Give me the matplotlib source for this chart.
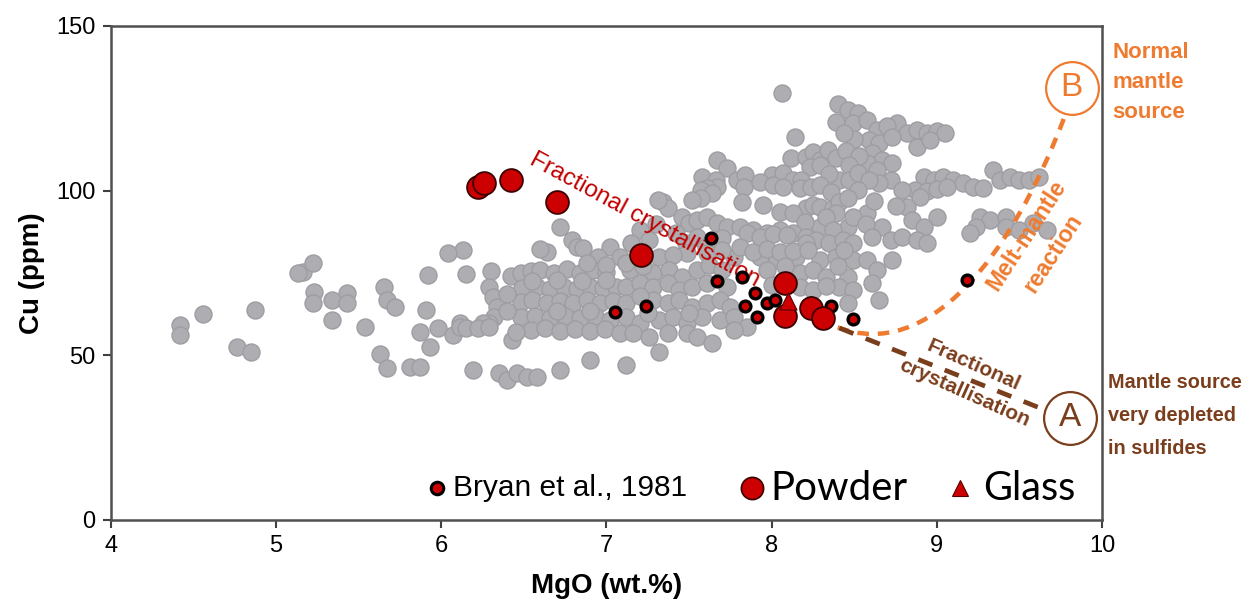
import matplotlib
matplotlib.use('Agg')
import matplotlib.pyplot as plt
from matplotlib import font_manager
from matplotlib.path import Path
from matplotlib.patches import PathPatch

def pick(*names):
    avail = {f.name for f in font_manager.fontManager.ttflist}
    for n in names:
        if n in avail:
            return n
    return 'DejaVu Sans'

NARROW = pick('Liberation Sans Narrow', 'Liberation Sans')
ARIAL = pick('Liberation Sans', 'DejaVu Sans')
CALI = pick('Lato', 'Open Sans', 'Liberation Sans')

# ---------------- data ----------------
gray_points = [
    (8.06,129.7),
    (8.40,126.3),(8.46,124.4),(8.52,123.5),
    (8.39,120.9),(8.49,120.5),(8.58,121.4),(8.76,120.6),(8.64,118.4),(8.70,119.5),
    (8.14,116.3),(8.82,117.5),(8.88,118.4),(8.94,117.4),(9.00,118.2),(9.05,117.6),(8.59,115.4),(8.65,114.5),
    (8.73,116.3),(8.50,115.6),(8.44,117.5),
    (8.88,113.3),(8.96,115.3),(8.61,111.4),(8.67,109.3),(8.73,108.4),(8.58,108.4),(8.12,110.0),(8.21,110.2),
    (8.25,111.7),(8.29,109.3),(8.34,112.4),(8.39,110.0),(7.67,109.3),(8.45,112.0),(8.53,110.5),
    (7.73,106.9),(7.58,104.2),(7.66,103.3),(7.79,103.3),(7.84,104.8),(8.00,104.8),(8.07,105.4),(8.13,103.3),
    (8.23,107.2),(8.29,107.8),(8.47,107.8),(8.18,103.3),(8.41,103.3),(8.47,103.3),(8.52,105.4),(8.64,106.3),
    (8.72,103.3),(8.65,102.3),(8.59,103.3),(8.92,104.2),(8.98,103.3),(9.04,104.2),(9.10,103.3),(9.16,102.3),
    (9.34,106.3),(9.38,103.3),(9.44,104.2),(9.50,103.3),(9.56,103.3),(9.62,104.2),(8.35,105.0),(7.93,102.5),
    (7.67,101.1),(7.61,100.8),(7.83,101.1),(8.01,101.7),(8.07,101.1),(8.17,100.8),(8.24,101.1),(8.29,101.7),
    (7.57,100.2),(7.64,99.3),(7.57,97.8),(7.82,96.6),(9.22,101.1),(9.28,100.9),(8.87,100.2),(8.94,100.0),
    (9.00,100.4),(9.06,101.1),(8.79,100.2),(8.90,98.1),(8.36,99.5),(8.52,100.3),
    (7.34,96.6),(7.37,94.7),(7.31,97.2),(7.52,97.2),(8.21,94.7),(8.25,95.7),(8.29,95.0),(8.37,94.7),(8.41,96.6),
    (8.46,97.8),(8.82,95.0),(8.75,95.2),(8.05,93.5),(8.13,93.2),(8.58,93.2),(8.39,93.2),(7.95,95.5),(8.62,97.0),
    (7.46,92.0),(7.50,90.2),(7.55,91.1),(7.61,92.0),(7.67,90.2),(7.73,89.0),(7.81,89.0),(7.89,88.0),(8.05,88.0),
    (8.29,89.0),(8.46,89.0),(8.49,92.0),(8.33,92.0),(9.26,92.0),(9.32,91.1),(9.24,89.0),(9.42,92.0),(9.42,89.0),
    (9.58,90.2),(9.00,92.0),(8.85,91.1),(8.92,89.0),(8.67,89.0),(6.72,89.0),(7.30,90.0),(7.20,88.0),(8.20,90.5),
    (8.57,90.0),
    (7.97,87.2),(8.13,87.2),(8.21,86.0),(8.37,88.0),(8.27,85.0),(8.35,84.1),(8.43,85.0),(8.49,84.1),(8.21,84.1),
    (9.50,88.0),(9.67,88.0),(9.20,87.2),(8.61,86.0),(8.72,85.0),(8.79,86.0),(8.88,85.0),(8.94,84.1),(6.79,85.0),
    (6.82,83.0),(6.86,82.6),(7.85,87.0),(7.93,85.8),(8.01,86.8),(8.09,86.5),(7.26,85.0),(7.42,87.0),(7.48,84.0),
    (7.55,86.0),(7.60,83.0),(7.15,84.0),(7.02,83.0),(7.70,85.5),
    (6.64,81.4),(6.60,82.2),(6.13,82.0),(6.04,81.0),(7.32,80.0),(7.49,81.0),(7.61,81.0),(7.77,80.0),(7.93,80.0),
    (8.03,79.0),(8.15,80.0),(8.29,79.0),(8.39,80.0),(8.49,79.0),(8.58,79.0),(8.73,79.0),(7.81,83.0),(7.89,81.5),
    (7.97,82.3),(8.05,81.3),(8.13,81.8),(7.40,80.5),(7.08,80.0),(6.95,80.0),(7.70,82.0),(8.22,82.0),(8.44,82.0),
    (5.16,75.3),(5.22,78.0),(5.13,75.0),(5.92,74.4),(6.15,74.7),(6.42,74.1),(6.48,75.0),(6.54,75.5),(6.60,76.0),
    (6.68,75.0),(6.76,76.3),(6.84,75.0),(6.92,76.0),(7.00,75.2),(7.14,76.0),(7.28,75.0),(7.38,76.0),(7.46,73.8),
    (7.55,76.0),(7.97,76.0),(8.17,75.0),(8.25,76.0),(8.33,73.8),(8.46,73.8),(8.64,75.9),(6.88,78.0),(7.00,77.5),
    (7.12,78.0),(7.22,77.0),(7.62,77.5),(7.70,76.0),(8.08,77.0),(8.40,77.0),(6.30,75.5),
    (5.23,69.2),(5.43,68.9),(5.65,70.8),(6.29,70.8),(6.49,70.4),(6.58,70.9),(6.66,70.2),(6.74,70.6),(6.82,70.0),
    (6.90,70.8),(6.98,70.3),(7.06,70.6),(7.12,70.8),(7.20,72.0),(7.28,70.8),(7.37,72.0),(7.44,69.8),(7.52,70.8),
    (7.61,72.0),(7.73,70.8),(8.17,70.8),(8.25,69.8),(8.41,70.8),(8.49,69.8),(8.61,72.0),(6.55,72.5),(6.70,73.0),
    (6.85,72.5),(7.00,73.0),(8.00,71.5),(8.33,71.0),
    (5.22,65.9),(5.34,66.8),(5.43,65.9),(5.67,66.8),(5.72,64.7),(5.91,63.8),(6.31,67.7),(6.34,64.7),(6.48,66.2),
    (6.55,66.8),(6.64,65.8),(6.72,66.5),(6.80,66.0),(6.88,66.7),(6.96,65.9),(7.04,66.5),(7.12,65.9),(7.28,66.8),
    (7.37,65.9),(7.44,66.8),(7.52,64.7),(7.61,65.9),(7.69,66.8),(7.75,64.7),(8.46,65.9),(8.65,66.8),(4.87,63.8),
    (4.56,62.6),(7.20,68.0),(6.40,68.5),
    (6.32,61.6),(6.29,59.8),(5.34,60.7),(6.48,61.6),(6.57,62.0),(6.66,61.4),(6.75,62.0),(6.84,61.3),(6.93,61.8),
    (7.02,60.7),(7.12,61.6),(7.20,59.8),(7.32,60.7),(7.40,61.6),(7.49,59.8),(7.58,61.6),(7.69,60.7),(7.77,61.6),
    (4.42,59.2),(6.11,59.8),(6.25,59.8),(6.40,63.5),(6.70,63.5),(6.90,63.5),(7.25,63.0),(7.50,63.0),
    (4.42,56.2),(5.54,58.6),(5.87,57.1),(5.98,58.3),(6.07,56.2),(6.11,58.6),(6.15,58.3),(6.22,58.3),(6.29,58.6),
    (6.54,57.7),(6.63,58.2),(6.72,57.5),(6.81,58.0),(6.90,57.4),(6.99,57.9),(7.08,56.8),(7.16,56.8),(7.26,55.6),
    (7.37,56.8),(7.49,56.8),(7.55,55.6),(7.85,58.6),(7.77,57.7),(6.43,54.7),(7.64,53.8),(6.45,57.0),
    (4.76,52.5),(4.85,51.0),(5.63,50.4),(5.93,52.5),(7.32,51.0),(6.90,48.6),
    (5.67,46.2),(5.81,46.5),(5.87,46.5),(6.19,45.5),(6.35,44.6),(6.40,42.5),(6.46,44.6),(6.52,43.4),(6.58,43.4),
    (6.72,45.5),(7.12,47.0),
]
gray_mgo = [p[0] for p in gray_points]
gray_cu = [p[1] for p in gray_points]

bryan_mgo = [7.05, 7.24, 7.63, 7.67, 7.82, 7.90, 7.84, 7.91, 7.97, 8.02, 8.24, 8.36, 8.49, 9.18]
bryan_cu = [63.2, 65.0, 85.6, 72.6, 73.8, 68.9, 65.0, 61.6, 65.9, 66.8, 65.9, 65.0, 61.0, 72.9]

powder_mgo = [6.22, 6.26, 6.42, 6.70, 7.21, 8.08, 8.08, 8.24, 8.31]
powder_cu = [101.1, 102.4, 103.2, 96.6, 80.5, 72.0, 61.8, 64.3, 61.2]

glass_mgo = [8.10]
glass_cu = [66.4]

# annotation geometry (data units)
melt_curve_x = [8.40, 8.95, 9.45, 9.77]
melt_curve_y = [58.5, 48.0, 80.0, 122.0]
fc_line_x = [8.41, 9.64]
fc_line_y = [58.3, 33.7]
circle_B = (9.817, 131.2)
circle_A = (9.805, 31.0)

x_ticks = [4, 5, 6, 7, 8, 9, 10]
y_ticks = [0, 50, 100, 150]

RED = '#C00000'
ORANGE = '#EE7B30'
BROWN = '#7A3E1C'

# ---------------- figure ----------------
fig = plt.figure(figsize=(12.55, 6.06), dpi=100)
ax = fig.add_axes([111/1255, 86/606, 991/1255, 494/606])
ax.set_xlim(4, 10)
ax.set_ylim(0, 150)
ax.set_xticks(x_ticks)
ax.set_yticks(y_ticks)
ax.set_xticklabels([str(t) for t in x_ticks], fontfamily=ARIAL, fontsize=17)
ax.set_yticklabels([str(t) for t in y_ticks], fontfamily=ARIAL, fontsize=17)
ax.tick_params(direction='out', length=6, width=1.5, color='#404040', pad=5)
for s in ax.spines.values():
    s.set_color('#505050')
    s.set_linewidth(1.8)

ax.set_xlabel('MgO (wt.%)', fontfamily=NARROW, fontweight='bold', fontsize=20, labelpad=11)
ax.set_ylabel('Cu (ppm)', fontfamily=NARROW, fontweight='bold', fontsize=20, labelpad=8)

ax.scatter(gray_mgo, gray_cu, s=150, c='#AEAEB2', edgecolors='#9E9EA2', linewidths=1.0, zorder=2)

# annotation lines
verts = list(zip(melt_curve_x, melt_curve_y))
path = Path(verts, [Path.MOVETO, Path.CURVE4, Path.CURVE4, Path.CURVE4])
ax.add_patch(PathPatch(path, fill=False, edgecolor=ORANGE, lw=3.2, linestyle=(0, (2.6, 2.0)), zorder=3))
ax.plot(fc_line_x, fc_line_y, color=BROWN, lw=3.4, linestyle=(0, (3.2, 2.8)), zorder=3)

ax.plot([circle_B[0]], [circle_B[1]], marker='o', ms=38, mfc='white', mec=ORANGE, mew=1.6, zorder=4, clip_on=False)
ax.text(circle_B[0], circle_B[1], 'B', color=ORANGE, fontsize=24, fontfamily=ARIAL, ha='center', va='center', zorder=5)
ax.plot([circle_A[0]], [circle_A[1]], marker='o', ms=38, mfc='white', mec=BROWN, mew=1.6, zorder=4, clip_on=False)
ax.text(circle_A[0], circle_A[1], 'A', color=BROWN, fontsize=24, fontfamily=ARIAL, ha='center', va='center', zorder=5)

ax.text(7.232, 91.1, 'Fractional crystallisation', color=RED, fontsize=17.5, fontfamily=ARIAL,
        rotation=-28.5, ha='center', va='center', rotation_mode='anchor', zorder=6)
ax.text(9.225, 47.1, 'Fractional', color=BROWN, fontsize=15, fontfamily=ARIAL, fontweight='bold',
        rotation=-24, ha='center', va='center', rotation_mode='anchor', zorder=6)
ax.text(9.165, 38.6, 'crystallisation', color=BROWN, fontsize=15, fontfamily=ARIAL, fontweight='bold',
        rotation=-24, ha='center', va='center', rotation_mode='anchor', zorder=6)
ax.text(9.545, 86.5, 'Melt-mantle', color=ORANGE, fontsize=16.5, fontfamily=ARIAL, fontweight='bold',
        rotation=57, ha='center', va='center', rotation_mode='anchor', zorder=6)
ax.text(9.702, 81.1, 'reaction', color=ORANGE, fontsize=16.5, fontfamily=ARIAL, fontweight='bold',
        rotation=57, ha='center', va='center', rotation_mode='anchor', zorder=6)

# data markers
ax.scatter(bryan_mgo, bryan_cu, s=60, c='#CC0000', edgecolors='black', linewidths=2.4, zorder=7)
ax.scatter(powder_mgo, powder_cu, s=270, c='#CC0000', edgecolors='#3a0000', linewidths=1.3, zorder=8)
ax.scatter(glass_mgo, glass_cu, s=150, marker='^', c='#CC0000', edgecolors='#5a0000', linewidths=0.8, zorder=9)

# legend (manual)
ly = (520-488)/494
ax.plot([0.329], [ly], transform=ax.transAxes, marker='o', ms=9, mfc='#CC0000', mec='black', mew=2.2, clip_on=False)
ax.text(0.345, ly, 'Bryan et al., 1981', transform=ax.transAxes, fontsize=21.5, fontfamily=ARIAL, va='center', ha='left')
ax.plot([0.647], [ly], transform=ax.transAxes, marker='o', ms=16, mfc='#CC0000', mec='#3a0000', mew=1.2, clip_on=False)
ax.text(0.665, ly, 'Powder', transform=ax.transAxes, fontsize=29, fontfamily=CALI, va='center', ha='left')
ax.plot([0.857], [ly], transform=ax.transAxes, marker='^', ms=11, mfc='#CC0000', mec='#5a0000', mew=0.8, clip_on=False)
ax.text(0.880, ly, 'Glass', transform=ax.transAxes, fontsize=28.5, fontfamily=CALI, va='center', ha='left')

# right-side labels
for i, t in enumerate(['Normal', 'mantle', 'source']):
    fig.text(1112/1255, 1 - (53 + 30*i)/606, t, color=ORANGE, fontsize=16, fontfamily=ARIAL,
             fontweight='bold', va='center', ha='left')
for i, t in enumerate(['Mantle source', 'very depleted', 'in sulfides']):
    fig.text(1108/1255, 1 - (383 + 32.5*i)/606, t, color=BROWN, fontsize=14.3, fontfamily=NARROW,
             fontweight='bold', va='center', ha='left')

fig.savefig('out.png', dpi=100)
